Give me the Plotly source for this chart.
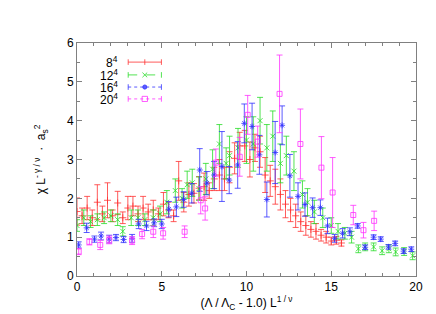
import plotly.graph_objects as go

# ---------------- data ----------------
labels = ["8<sup>4</sup>", "12<sup>4</sup>", "16<sup>4</sup>", "20<sup>4</sup>"]

x_8 = [0.0, 0.3, 0.6, 0.9, 1.2, 1.5, 1.8, 2.1, 2.4, 2.7, 3.0, 3.3, 3.6, 3.9, 4.2, 4.5, 4.8,
       5.1, 5.4, 5.7, 6.0, 6.3, 6.6, 6.9, 7.2, 7.5, 7.8, 8.1, 8.4, 8.7, 9.0, 9.3, 9.6, 9.9,
       10.2, 10.5, 10.8, 11.1, 11.4, 11.7, 12.0, 12.3, 12.6, 12.9, 13.2, 13.5, 13.8, 14.1,
       14.4, 14.7, 15.0, 15.3, 15.6]
y_8 = [1.66, 1.55, 1.75, 1.5, 1.9, 1.6, 1.95, 1.55, 1.88, 1.5, 1.75, 1.8, 1.6, 1.75, 1.65,
       1.7, 1.6, 1.85, 1.7, 1.55, 2.45, 1.9, 2.1, 2.13, 2.26, 2.3, 2.2, 2.5, 2.6, 2.5, 2.8,
       3.03, 3.35, 3.35, 3.0, 3.3, 3.2, 2.6, 2.45, 2.3, 2.1, 1.85, 1.7, 1.55, 1.4, 1.3, 1.2,
       1.15, 1.05, 1.0, 0.9, 0.92, 0.85]
e_8 = [0.35, 0.2, 0.3, 0.2, 0.45, 0.2, 0.45, 0.15, 0.3, 0.15, 0.3, 0.25, 0.2, 0.3, 0.2,
       0.25, 0.15, 0.3, 0.2, 0.15, 0.5, 0.25, 0.3, 0.25, 0.3, 0.35, 0.2, 0.3, 0.4, 0.3, 0.4,
       0.4, 0.35, 0.4, 0.45, 0.35, 0.4, 0.45, 0.4, 0.45, 0.4, 0.35, 0.3, 0.3, 0.25, 0.25,
       0.2, 0.2, 0.15, 0.15, 0.1, 0.1, 0.08]

x_12 = [0.0, 0.4, 0.8, 1.2, 1.6, 2.0, 2.4, 2.7, 3.2, 3.6, 4.0, 4.5, 4.9, 5.3, 5.8, 6.2, 6.5,
        6.8, 7.2, 7.6, 8.0, 8.4, 8.8, 9.0, 9.5, 10.0, 10.4, 10.8, 11.2, 11.55, 12.0, 12.35,
        12.8, 13.3, 13.6, 14.0, 14.5, 15.0, 15.4, 15.8, 16.2, 16.6, 17.0, 17.5, 18.0, 18.4,
        18.8, 19.3, 19.8]
y_12 = [1.3, 1.5, 1.4, 1.45, 1.5, 1.55, 1.45, 1.15, 1.5, 1.5, 1.45, 1.5, 1.6, 1.9, 2.2, 2.0,
        2.35, 2.4, 2.25, 2.5, 2.75, 3.4, 2.9, 3.1, 3.3, 3.5, 3.4, 4.0, 3.3, 3.6, 2.9, 3.1,
        2.7, 2.1, 1.9, 1.65, 1.5, 1.3, 1.15, 1.1, 1.0, 0.7, 0.75, 0.75, 0.65, 0.7, 0.62,
        0.63, 0.52]
e_12 = [0.15, 0.2, 0.15, 0.15, 0.15, 0.15, 0.15, 0.12, 0.2, 0.2, 0.15, 0.2, 0.2, 0.3, 0.3,
        0.25, 0.35, 0.35, 0.3, 0.4, 0.5, 0.5, 0.4, 0.5, 0.5, 0.6, 0.7, 0.6, 0.6, 0.65, 0.5,
        0.5, 0.5, 0.35, 0.35, 0.3, 0.25, 0.2, 0.2, 0.15, 0.15, 0.1, 0.1, 0.1, 0.1, 0.1, 0.1,
        0.1, 0.1]

x_16 = [0.1, 0.57, 1.03, 1.42, 1.9, 2.3, 2.75, 3.25, 3.64, 4.1, 4.55, 5.0, 5.42, 5.86, 6.29,
        6.77, 7.24, 7.66, 8.09, 8.55, 8.98, 9.48, 9.87, 10.33, 10.76, 11.2, 11.69, 12.1,
        12.56, 13.04, 13.45, 13.9, 14.36, 14.78, 15.2, 15.67, 16.1, 16.56, 17.0, 17.5,
        17.92, 18.38, 18.77, 19.27, 19.72]
y_16 = [0.8, 1.24, 0.95, 1.03, 0.95, 0.99, 0.94, 0.97, 1.34, 1.29, 1.37, 1.34, 1.72, 1.78,
        1.97, 2.13, 2.73, 2.39, 2.6, 2.82, 2.47, 2.86, 3.93, 3.85, 3.12, 1.97, 3.18, 3.88,
        2.58, 2.05, 1.84, 1.76, 1.76, 1.29, 0.97, 1.1, 1.14, 1.29, 0.74, 1.0, 0.95, 0.75,
        0.84, 0.64, 0.69]
e_16 = [0.08, 0.12, 0.08, 0.1, 0.1, 0.08, 0.08, 0.1, 0.12, 0.12, 0.1, 0.12, 0.2, 0.25, 0.2,
        0.25, 0.55, 0.3, 0.35, 0.9, 0.35, 0.6, 0.5, 0.6, 0.5, 0.45, 0.8, 0.5, 0.55, 0.35,
        0.3, 0.25, 0.2, 0.2, 0.1, 0.12, 0.1, 0.06, 0.06, 0.06, 0.06, 0.06, 0.06, 0.06, 0.06]

x_20 = [0.1, 0.73, 1.37, 1.9, 3.25, 3.84, 4.5, 5.08, 6.35, 7.3, 7.56, 8.19, 9.6, 10.07,
        10.66, 11.95, 13.18, 14.42, 15.08, 16.3, 16.9, 17.53]
y_20 = [0.63, 0.88, 0.8, 0.93, 0.91, 1.08, 1.14, 1.1, 1.14, 1.95, 1.74, 2.92, 3.07, 4.15,
        3.46, 4.69, 3.4, 2.79, 2.15, 1.57, 1.18, 1.42]
e_20 = [0.08, 0.08, 0.12, 0.1, 0.1, 0.12, 0.15, 0.15, 0.15, 0.35, 0.3, 0.35, 0.5, 0.5, 0.4,
        1.0, 0.9, 0.8, 0.9, 0.25, 0.2, 0.25]

colors = ["rgba(255,50,50,0.8)", "rgba(40,220,40,0.8)", "rgba(50,50,255,0.8)", "rgba(255,50,255,0.8)"]
symbols = ["cross-thin", "x-thin", "asterisk", "square-open"]

series = [(x_8, y_8, e_8), (x_12, y_12, e_12), (x_16, y_16, e_16), (x_20, y_20, e_20)]

fig = go.Figure()
for (xs, ys, es), col, sym, lab in zip(series, colors, symbols, labels):
    fig.add_trace(go.Scatter(
        x=xs, y=ys, mode="markers", name=lab, showlegend=False,
        marker=dict(symbol=sym, size=5, color=col, line=dict(color=col, width=1)),
        error_y=dict(type="data", array=es, visible=True, color=col, thickness=1, width=3),
    ))

# custom gnuplot-style legend (text right-aligned, sample to the right)
rows_y = [0.918, 0.863, 0.811, 0.760]
dashes = ["solid", "dash", "dot", "dot"]
x0, x1, xm = 0.151, 0.249, 0.200
for lab, col, dsh, yy, k in zip(labels, colors, dashes, rows_y, range(4)):
    fig.add_annotation(x=0.128, y=yy, xref="paper", yref="paper", text=lab, showarrow=False,
                       xanchor="right", yanchor="middle", font=dict(size=12, color="black"))
    fig.add_shape(type="line", xref="paper", yref="paper", x0=x0, x1=x1, y0=yy, y1=yy,
                  line=dict(color=col, width=1, dash=dsh))
    for xx in (x0, x1):
        fig.add_shape(type="line", xref="paper", yref="paper", x0=xx, x1=xx, y0=yy - 0.012, y1=yy + 0.012,
                      line=dict(color=col, width=1))
    if k == 0:
        fig.add_shape(type="line", xref="paper", yref="paper", x0=xm, x1=xm, y0=yy - 0.012, y1=yy + 0.012,
                      line=dict(color=col, width=1))
    elif k == 1:
        fig.add_shape(type="path", xref="paper", yref="paper",
                      path=f"M {xm-0.007} {yy-0.01} L {xm+0.007} {yy+0.01} M {xm-0.007} {yy+0.01} L {xm+0.007} {yy-0.01}",
                      line=dict(color=col, width=1.0))
    elif k == 2:
        fig.add_shape(type="circle", xref="paper", yref="paper", x0=xm - 0.006, x1=xm + 0.006,
                      y0=yy - 0.009, y1=yy + 0.009, fillcolor=col, line=dict(color=col, width=1))
    else:
        fig.add_shape(type="rect", xref="paper", yref="paper", x0=xm - 0.008, x1=xm + 0.008,
                      y0=yy - 0.011, y1=yy + 0.011, line=dict(color=col, width=1))

axis_common = dict(showline=True, linecolor="#808080", linewidth=1, mirror="ticks",
                   ticks="inside", ticklen=5, tickcolor="#808080", showgrid=False, zeroline=False,
                   tickfont=dict(size=12, color="black"))

fig.update_xaxes(range=[0, 20], tick0=0, dtick=5,
                 minor=dict(ticks="inside", dtick=1, ticklen=3, tickcolor="#808080"),
                 title=dict(text="(Λ / Λ<sub>C</sub> - 1.0) L<sup>1 / ν</sup>", font=dict(size=12), standoff=4),
                 **axis_common)
fig.update_yaxes(range=[0, 6], tick0=0, dtick=1,
                 minor=dict(ticks="inside", dtick=0.5, ticklen=3, tickcolor="#808080"),
                 title=dict(text="χ L<sup>- γ / ν</sup>  ·  a<sub>s</sub><sup>2</sup>", font=dict(size=12), standoff=18),
                 **axis_common)

fig.update_layout(
    width=436, height=314,
    margin=dict(l=69, r=28, t=35, b=46),
    plot_bgcolor="white", paper_bgcolor="white",
    font=dict(family="Liberation Sans, Arial, sans-serif", size=12, color="black"),
)

fig.write_html("out.html")
